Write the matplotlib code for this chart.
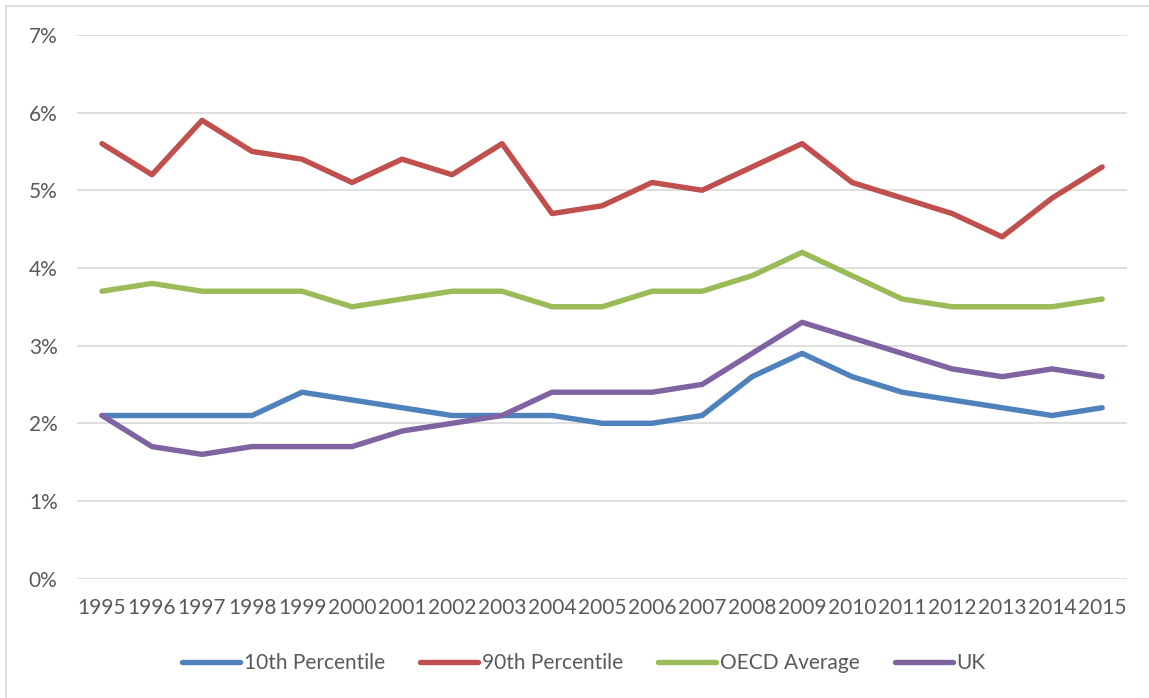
import matplotlib
matplotlib.use("Agg")
import matplotlib.pyplot as plt
from matplotlib.patches import Rectangle
from matplotlib.ticker import PercentFormatter

years = [str(y) for y in range(1995, 2016)]
p10 = [2.1, 2.1, 2.1, 2.1, 2.4, 2.3, 2.2, 2.1, 2.1, 2.1, 2.0, 2.0, 2.1, 2.6, 2.9, 2.6, 2.4, 2.3, 2.2, 2.1, 2.2]
p90 = [5.6, 5.2, 5.9, 5.5, 5.4, 5.1, 5.4, 5.2, 5.6, 4.7, 4.8, 5.1, 5.0, 5.3, 5.6, 5.1, 4.9, 4.7, 4.4, 4.9, 5.3]
oecd = [3.7, 3.8, 3.7, 3.7, 3.7, 3.5, 3.6, 3.7, 3.7, 3.5, 3.5, 3.7, 3.7, 3.9, 4.2, 3.9, 3.6, 3.5, 3.5, 3.5, 3.6]
uk = [2.1, 1.7, 1.6, 1.7, 1.7, 1.7, 1.9, 2.0, 2.1, 2.4, 2.4, 2.4, 2.5, 2.9, 3.3, 3.1, 2.9, 2.7, 2.6, 2.7, 2.6]

series = [("10th Percentile", p10, "#4F81BD"),
          ("90th Percentile", p90, "#C0504D"),
          ("OECD Average", oecd, "#9BBB59"),
          ("UK", uk, "#8064A2")]

plt.rcParams['font.family'] = ['Lato', 'DejaVu Sans']
txt = "#595959"

fig = plt.figure(figsize=(11.49, 6.98), dpi=100)
ax = fig.add_axes([0.067, 0.171, 0.914, 0.779])

# outer chart border
fig.patches.append(Rectangle((6/1149, -0.01), 1.1, 1 - 6/698 + 0.01, transform=fig.transFigure,
                             fill=False, edgecolor="#d9d9d9", lw=1.2))

x = list(range(len(years)))
for name, vals, col in series:
    ax.plot(x, vals, color=col, lw=3.9, label=name, solid_capstyle='round', solid_joinstyle='round')

ax.set_xlim(-0.5, len(years) - 0.5)
ax.set_ylim(0, 7)
ax.set_yticks(range(0, 8))
ax.yaxis.set_major_formatter(PercentFormatter(decimals=0))
ax.set_xticks(x)
ax.set_xticklabels(years)
ax.grid(axis='y', color="#d9d9d9", lw=1.2)
ax.set_axisbelow(True)
for s in ax.spines.values():
    s.set_visible(False)
ax.tick_params(length=0, labelsize=15, colors=txt)
ax.tick_params(axis='x', pad=14)
ax.tick_params(axis='y', pad=14)

fig.legend(loc='center', bbox_to_anchor=(0.508, 0.05), ncol=4, frameon=False,
           fontsize=15, labelcolor=txt, handlelength=2.8, handletextpad=0.15, columnspacing=1.7)

fig.savefig("out.png", dpi=100)
